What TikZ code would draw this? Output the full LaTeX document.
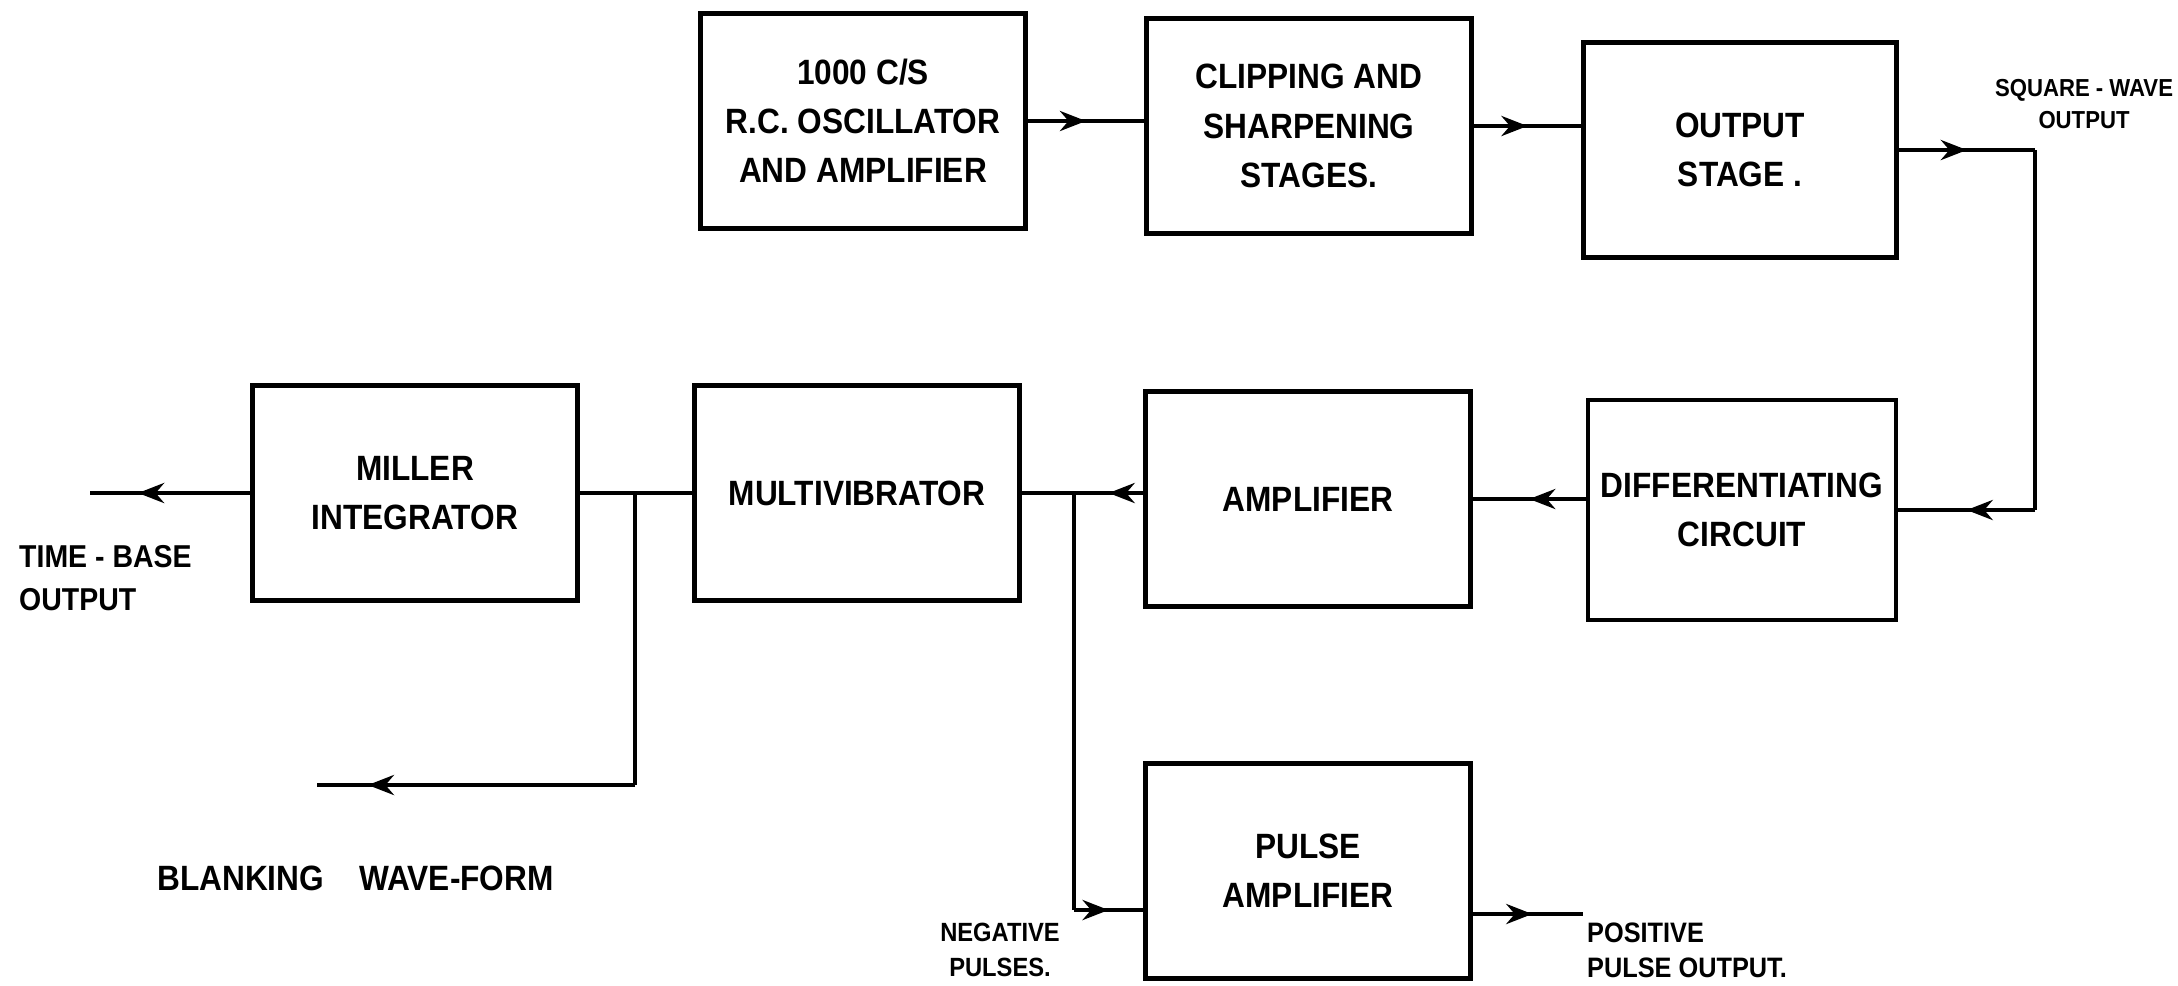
\documentclass[tikz,border=0pt]{standalone}
\usepackage{fontspec}
\setmainfont{Liberation Sans}[FakeStretch=0.9]
\usetikzlibrary{arrows.meta,decorations.markings}

\begin{document}
\begin{tikzpicture}[x=0.1mm,y=-0.1mm,
    blk/.style={draw,line width=1.3pt,minimum width=32.5mm,minimum height=21.5mm,align=center,inner sep=1pt,font=\bfseries\fontsize{10}{14}\selectfont},
    lbl/.style={align=left,inner sep=1pt,font=\bfseries\fontsize{8}{11}\selectfont},
    wire/.style={line width=1.3pt},
    midarrow/.style={wire,postaction={decorate},decoration={markings,mark=at position #1 with {\arrow{Stealth[length=2.6mm,width=2mm]}}}},
    midarrow/.default=0.5]
  \useasboundingbox (0,0) rectangle (2178,985);
  \node[blk] (osc) at (863,121) {1000 C/S\\R.C. OSCILLATOR\\AND AMPLIFIER};
  \node[blk] (clip) at (1309,126) {CLIPPING AND\\SHARPENING\\STAGES.};
  \node[blk,minimum width=31.3mm] (outst) at (1740,150) {OUTPUT\\STAGE .};
  \node[blk] (miller) at (415,493) {MILLER\\INTEGRATOR};
  \node[blk] (multi) at (857,493) {MULTIVIBRATOR};
  \node[blk] (amp) at (1308,499) {AMPLIFIER};
  \node[blk,minimum width=30.8mm,minimum height=22mm] (diff) at (1742,510) {DIFFERENTIATING\\CIRCUIT};
  \node[blk] (pulse) at (1308,871) {PULSE\\AMPLIFIER};
  \node[lbl,align=center,font=\bfseries\fontsize{7}{9}\selectfont] (sqlbl) at (2084,104) {SQUARE - WAVE\\OUTPUT};
  \node[lbl,anchor=west,font=\bfseries\fontsize{9}{12}\selectfont] (tblbl) at (15,578) {TIME - BASE\\OUTPUT};
  \node[lbl,anchor=west,font=\bfseries\fontsize{10}{12}\selectfont] (bllbl) at (153,878) {BLANKING\quad WAVE-FORM};
  \node[lbl,align=center,font=\bfseries\fontsize{7.5}{10}\selectfont] (nglbl) at (1000,950) {NEGATIVE\\PULSES.};
  \node[lbl,anchor=west,font=\bfseries\fontsize{8}{10}\selectfont] (pslbl) at (1583,950) {POSITIVE\\PULSE OUTPUT.};
  \coordinate (sqa) at (2035,150);
  \coordinate (sqb) at (2035,510);
  \coordinate (tbo) at (90,493);
  \coordinate (jm) at (635,493);
  \coordinate (jb) at (635,785);
  \coordinate (blo) at (317,785);
  \coordinate (ja) at (1074,493);
  \coordinate (jp) at (1074,910);
  \coordinate (ppo) at (1583,914);
  \draw[midarrow] (osc.east) -- (osc.east -| clip.west);
  \draw[midarrow] (clip.east) -- (clip.east -| outst.west);
  \draw[midarrow] (outst.east) -- (sqa);
  \draw[wire] (sqa) -- (sqb);
  \draw[midarrow] (sqb) -- (diff.east);
  \draw[midarrow] (amp.east -| diff.west) -- (amp.east);
  \draw[midarrow] (amp.west |- ja) -- (ja);
  \draw[wire] (ja) -- (multi.east);
  \draw[wire] (multi.west) -- (jm) -- (miller.east);
  \draw[midarrow=0.7] (miller.west) -- (tbo);
  \draw[wire] (jm) -- (jb);
  \draw[midarrow=0.84] (jb) -- (blo);
  \draw[wire] (ja) -- (jp);
  \draw[midarrow] (jp) -- (jp -| pulse.west);
  \draw[midarrow=0.54] (pulse.east |- ppo) -- (ppo);
\end{tikzpicture}
\end{document}
